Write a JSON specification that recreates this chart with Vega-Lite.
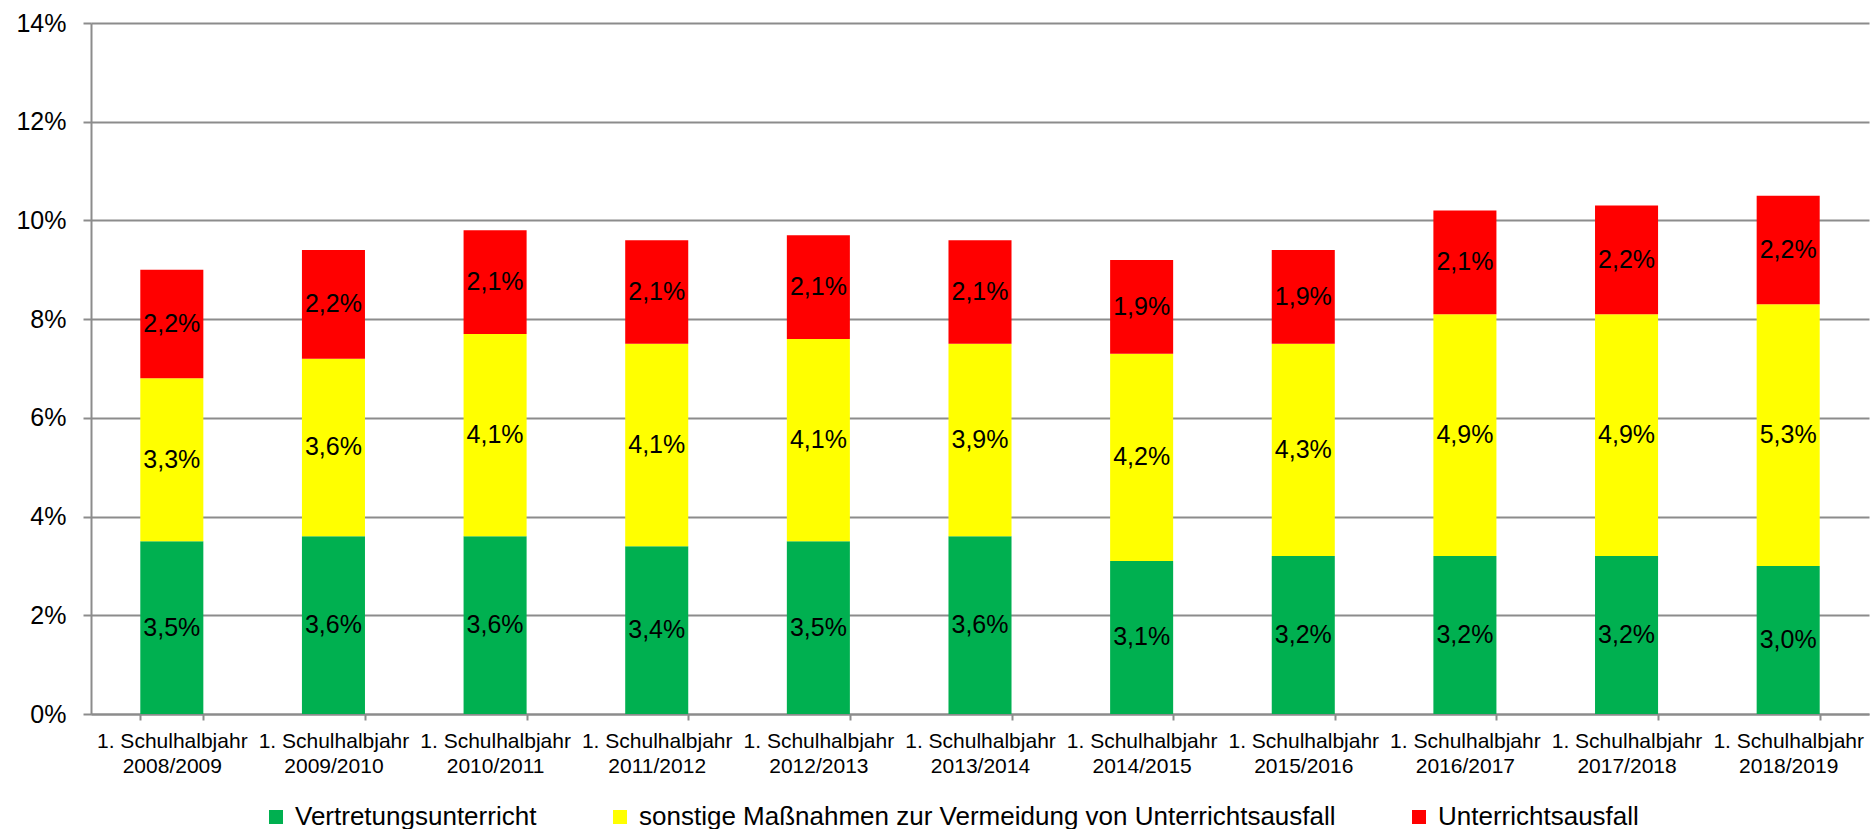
{
  "$schema": "https://vega.github.io/schema/vega-lite/v6.json",
  "width": 1778,
  "height": 691,
  "padding": {"left": 15, "top": 11, "right": 2, "bottom": 0},
  "background": "white",
  "config": {
    "locale": {"number": {"decimal": ",", "thousands": ".", "grouping": [3], "currency": ["", " €"]}},
    "view": {"stroke": null},
    "font": "Liberation Sans"
  },
  "data": {
    "values": [
      {"year": "2008/2009", "series": "Vertretungsunterricht", "rank": 1, "value": 0.035},
      {"year": "2008/2009", "series": "sonstige Maßnahmen zur Vermeidung von Unterrichtsausfall", "rank": 2, "value": 0.033},
      {"year": "2008/2009", "series": "Unterrichtsausfall", "rank": 3, "value": 0.022},
      {"year": "2009/2010", "series": "Vertretungsunterricht", "rank": 1, "value": 0.036},
      {"year": "2009/2010", "series": "sonstige Maßnahmen zur Vermeidung von Unterrichtsausfall", "rank": 2, "value": 0.036},
      {"year": "2009/2010", "series": "Unterrichtsausfall", "rank": 3, "value": 0.022},
      {"year": "2010/2011", "series": "Vertretungsunterricht", "rank": 1, "value": 0.036},
      {"year": "2010/2011", "series": "sonstige Maßnahmen zur Vermeidung von Unterrichtsausfall", "rank": 2, "value": 0.041},
      {"year": "2010/2011", "series": "Unterrichtsausfall", "rank": 3, "value": 0.021},
      {"year": "2011/2012", "series": "Vertretungsunterricht", "rank": 1, "value": 0.034},
      {"year": "2011/2012", "series": "sonstige Maßnahmen zur Vermeidung von Unterrichtsausfall", "rank": 2, "value": 0.041},
      {"year": "2011/2012", "series": "Unterrichtsausfall", "rank": 3, "value": 0.021},
      {"year": "2012/2013", "series": "Vertretungsunterricht", "rank": 1, "value": 0.035},
      {"year": "2012/2013", "series": "sonstige Maßnahmen zur Vermeidung von Unterrichtsausfall", "rank": 2, "value": 0.041},
      {"year": "2012/2013", "series": "Unterrichtsausfall", "rank": 3, "value": 0.021},
      {"year": "2013/2014", "series": "Vertretungsunterricht", "rank": 1, "value": 0.036},
      {"year": "2013/2014", "series": "sonstige Maßnahmen zur Vermeidung von Unterrichtsausfall", "rank": 2, "value": 0.039},
      {"year": "2013/2014", "series": "Unterrichtsausfall", "rank": 3, "value": 0.021},
      {"year": "2014/2015", "series": "Vertretungsunterricht", "rank": 1, "value": 0.031},
      {"year": "2014/2015", "series": "sonstige Maßnahmen zur Vermeidung von Unterrichtsausfall", "rank": 2, "value": 0.042},
      {"year": "2014/2015", "series": "Unterrichtsausfall", "rank": 3, "value": 0.019},
      {"year": "2015/2016", "series": "Vertretungsunterricht", "rank": 1, "value": 0.032},
      {"year": "2015/2016", "series": "sonstige Maßnahmen zur Vermeidung von Unterrichtsausfall", "rank": 2, "value": 0.043},
      {"year": "2015/2016", "series": "Unterrichtsausfall", "rank": 3, "value": 0.019},
      {"year": "2016/2017", "series": "Vertretungsunterricht", "rank": 1, "value": 0.032},
      {"year": "2016/2017", "series": "sonstige Maßnahmen zur Vermeidung von Unterrichtsausfall", "rank": 2, "value": 0.049},
      {"year": "2016/2017", "series": "Unterrichtsausfall", "rank": 3, "value": 0.021},
      {"year": "2017/2018", "series": "Vertretungsunterricht", "rank": 1, "value": 0.032},
      {"year": "2017/2018", "series": "sonstige Maßnahmen zur Vermeidung von Unterrichtsausfall", "rank": 2, "value": 0.049},
      {"year": "2017/2018", "series": "Unterrichtsausfall", "rank": 3, "value": 0.022},
      {"year": "2018/2019", "series": "Vertretungsunterricht", "rank": 1, "value": 0.030},
      {"year": "2018/2019", "series": "sonstige Maßnahmen zur Vermeidung von Unterrichtsausfall", "rank": 2, "value": 0.053},
      {"year": "2018/2019", "series": "Unterrichtsausfall", "rank": 3, "value": 0.022}
    ]
  },
  "transform": [
    {"stack": "value", "groupby": ["year"], "sort": [{"field": "rank", "order": "ascending"}], "as": ["v0", "v1"]}
  ],
  "encoding": {
    "x": {
      "field": "year",
      "type": "nominal",
      "sort": null,
      "scale": {"paddingInner": 0.61, "paddingOuter": 0.305},
      "axis": {
        "title": null,
        "labelAngle": 0,
        "labelExpr": "datum.label ? ['1. Schulhalbjahr', datum.label] : ''",
        "labelFontSize": 21,
        "labelLineHeight": 25,
        "labelColor": "#000000",
        "labelPadding": 10,
        "labelLimit": 0,
        "labelOverlap": false,
        "tickBand": "extent",
        "tickSize": 6,
        "tickColor": "#8c8c8c",
        "tickWidth": 2,
        "domainColor": "#8c8c8c",
        "domainWidth": 2,
        "grid": false
      }
    }
  },
  "layer": [
    {
      "mark": {"type": "bar"},
      "encoding": {
        "y": {
          "field": "v0",
          "type": "quantitative",
          "scale": {"domain": [0, 0.14]},
          "axis": {
            "title": null,
            "format": ".0%",
            "values": [0, 0.02, 0.04, 0.06, 0.08, 0.1, 0.12, 0.14],
            "labelFontSize": 25,
            "labelColor": "#000000",
            "labelPadding": 17,
            "tickSize": 8,
            "tickColor": "#8c8c8c",
            "tickWidth": 2,
            "domainColor": "#8c8c8c",
            "domainWidth": 2,
            "grid": true,
            "gridColor": "#8c8c8c",
            "gridWidth": 2
          }
        },
        "y2": {"field": "v1"},
        "color": {
          "field": "series",
          "type": "nominal",
          "sort": null,
          "scale": {
            "domain": ["Vertretungsunterricht", "sonstige Maßnahmen zur Vermeidung von Unterrichtsausfall", "Unterrichtsausfall"],
            "range": ["#00B050", "#FFFF00", "#FF0000"]
          },
          "legend": {
            "title": null,
            "orient": "none",
            "legendX": 172,
            "legendY": 781,
            "direction": "horizontal",
            "symbolType": "square",
            "symbolSize": 196,
            "symbolStrokeWidth": 0,
            "labelFontSize": 26,
            "labelColor": "#000000",
            "labelOffset": 6,
            "labelLimit": 0,
            "columnPadding": 70
          }
        }
      }
    },
    {
      "transform": [
        {"fold": ["v0", "v1"], "as": ["edge", "pos"]},
        {"aggregate": [{"op": "mean", "field": "pos", "as": "mid"}], "groupby": ["year", "series", "value"]}
      ],
      "mark": {"type": "text", "fontSize": 25, "baseline": "middle", "color": "#000000"},
      "encoding": {
        "y": {"field": "mid", "type": "quantitative", "scale": {"domain": [0, 0.14]}},
        "text": {"field": "value", "type": "quantitative", "format": ".1%"}
      }
    }
  ]
}
